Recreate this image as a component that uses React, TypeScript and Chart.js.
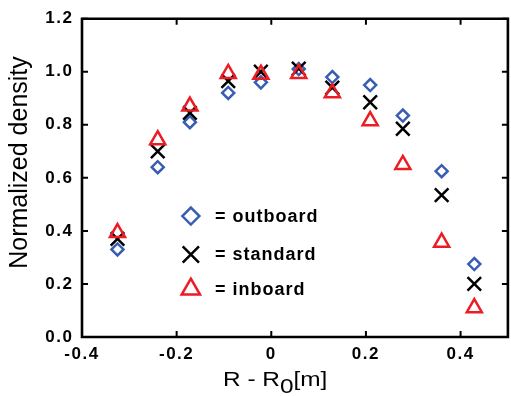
import React, { useEffect, useRef } from 'react';
import { Chart, registerables } from 'chart.js';
import { drawPoint } from 'chart.js/helpers';

Chart.register(...registerables);

// R - R0 [m] positions of the measurements
const positions = [-0.325, -0.24, -0.172, -0.091, -0.022, 0.058, 0.129, 0.209, 0.278, 0.36, 0.429];
// Normalized density for each configuration
const outboard = [0.33, 0.64, 0.81, 0.92, 0.96, 1.01, 0.98, 0.95, 0.835, 0.625, 0.275];
const standard = [0.37, 0.70, 0.845, 0.965, 1.0, 1.012, 0.94, 0.885, 0.785, 0.535, 0.2];
const inboard = [0.393, 0.743, 0.87, 0.993, 0.99, 0.993, 0.92, 0.815, 0.65, 0.357, 0.11];

const xTicks = [-0.4, -0.2, 0, 0.2, 0.4];
const xTickLabels = ['-0.4', '-0.2', '0', '0.2', '0.4'];
const yTicks = [0, 0.2, 0.4, 0.6, 0.8, 1.0, 1.2];
const yTickLabels = ['0.0', '0.2', '0.4', '0.6', '0.8', '1.0', '1.2'];

const legendLabels = ['= outboard', '= standard', '= inboard'];
const yTitle = 'Normalized density';
const xTitleMain = 'R - R';
const xTitleSub = '0';
const xTitleUnit = '[m]';

const BLUE = '#3a5db4';
const RED = '#ec1c24';
const BLACK = '#000000';
const FONT = '"Liberation Sans", Arial, Helvetica, sans-serif';

const framePlugin = {
  id: 'frameAndText',
  beforeDraw(chart: any) {
    (chart.ctx as any).letterSpacing = '1.5px';
  },
  afterDraw(chart: any) {
    const ctx = chart.ctx as CanvasRenderingContext2D;
    const { left, right, top, bottom } = chart.chartArea;
    const xs = chart.scales.x;
    const ys = chart.scales.y;
    ctx.save();
    (ctx as any).letterSpacing = '0px';
    // frame
    ctx.strokeStyle = BLACK;
    ctx.lineWidth = 2.6;
    ctx.beginPath();
    ctx.rect(left, top, right - left, bottom - top);
    ctx.stroke();
    // inward ticks
    ctx.lineWidth = 2;
    const tl = 6;
    ctx.beginPath();
    xTicks.forEach((v) => {
      const px = xs.getPixelForValue(v);
      ctx.moveTo(px, bottom);
      ctx.lineTo(px, bottom - tl);
      ctx.moveTo(px, top);
      ctx.lineTo(px, top + tl);
    });
    yTicks.forEach((v) => {
      const py = ys.getPixelForValue(v);
      ctx.moveTo(left, py);
      ctx.lineTo(left + tl, py);
      ctx.moveTo(right, py);
      ctx.lineTo(right - tl, py);
    });
    ctx.stroke();

    // legend
    const legendStyles = [
      { style: 'rectRot', radius: 8.5, color: BLUE, y: 0.456 },
      { style: 'crossRot', radius: 11.5, color: BLACK, y: 311 / 1000 },
      { style: 'triangle', radius: 10.6, color: RED, y: 0.18 },
    ];
    const mx = xs.getPixelForValue(-0.17);
    legendStyles.forEach((ls, i) => {
      const py = ys.getPixelForValue(ls.y);
      ctx.strokeStyle = ls.color;
      ctx.fillStyle = 'rgba(0,0,0,0)';
      ctx.lineWidth = 2.5;
      drawPoint(ctx, { pointStyle: ls.style as any, radius: ls.radius, rotation: 0, borderWidth: 2.5 }, mx, py);
      ctx.fillStyle = BLACK;
      ctx.font = 'bold 18px ' + FONT;
      (ctx as any).letterSpacing = '1px';
      ctx.textAlign = 'left';
      ctx.textBaseline = 'middle';
      ctx.fillText(legendLabels[i], 215, py + 1);
    });

    // y title
    (ctx as any).letterSpacing = '0px';
    ctx.fillStyle = BLACK;
    ctx.save();
    ctx.translate(26.5, 162.5);
    ctx.rotate(-Math.PI / 2);
    ctx.font = '25px ' + FONT;
    ctx.textAlign = 'center';
    ctx.textBaseline = 'alphabetic';
    ctx.fillText(yTitle, 0, 0);
    ctx.restore();

    // x title with subscript
    ctx.save();
    ctx.translate(223, 386);
    ctx.scale(1.22, 1);
    ctx.textAlign = 'left';
    ctx.textBaseline = 'alphabetic';
    ctx.font = '20px ' + FONT;
    ctx.fillText(xTitleMain, 0, 0);
    let w = ctx.measureText(xTitleMain).width;
    ctx.font = '20px ' + FONT;
    ctx.fillText(xTitleSub, w, 7);
    w += ctx.measureText(xTitleSub).width;
    ctx.font = '20px ' + FONT;
    ctx.fillText(xTitleUnit, w, 0);
    ctx.restore();

    ctx.restore();
  },
};

export default function App() {
  const ref = useRef<HTMLCanvasElement | null>(null);
  useEffect(() => {
    if (!ref.current) return;
    const mk = (ys: number[]) => positions.map((x, i) => ({ x, y: ys[i] }));
    const tickFont = { family: FONT, size: 17, weight: 'bold' as const };
    const chart = new Chart(ref.current, {
      type: 'scatter',
      data: {
        datasets: [
          {
            label: 'inboard',
            data: mk(inboard),
            pointStyle: 'triangle',
            pointRadius: 8.7,
            pointBorderWidth: 2.5,
            pointBorderColor: RED,
            pointBackgroundColor: 'rgba(0,0,0,0)',
            showLine: false,
          },
          {
            label: 'standard',
            data: mk(standard),
            pointStyle: 'crossRot',
            pointRadius: 9.6,
            pointBorderWidth: 2.5,
            pointBorderColor: BLACK,
            pointBackgroundColor: 'rgba(0,0,0,0)',
            showLine: false,
          },
          {
            label: 'outboard',
            data: mk(outboard),
            pointStyle: 'rectRot',
            pointRadius: 6,
            pointBorderWidth: 2.5,
            pointBorderColor: BLUE,
            pointBackgroundColor: 'rgba(0,0,0,0)',
            showLine: false,
          },
        ] as any,
      },
      options: {
        responsive: false,
        animation: false,
        events: [],
        layout: { padding: { top: 12, right: 7, left: 0, bottom: 0 } },
        plugins: { legend: { display: false }, tooltip: { enabled: false } },
        scales: {
          x: {
            type: 'linear',
            min: -0.4,
            max: 0.5,
            grid: { display: false, drawTicks: false },
            border: { display: false },
            afterBuildTicks: (s: any) => {
              s.ticks = xTicks.map((v) => ({ value: v }));
            },
            afterFit: (s: any) => {
              s.height = 59;
            },
            ticks: {
              autoSkip: false,
              maxRotation: 0,
              padding: 7,
              color: BLACK,
              font: tickFont,
              callback: (_v: any, i: number) => xTickLabels[i],
            },
          },
          y: {
            type: 'linear',
            min: 0,
            max: 1.2,
            grid: { display: false, drawTicks: false },
            border: { display: false },
            afterBuildTicks: (s: any) => {
              s.ticks = yTicks.map((v) => ({ value: v }));
            },
            afterFit: (s: any) => {
              s.width = 82;
            },
            ticks: {
              autoSkip: false,
              padding: 8.5,
              color: BLACK,
              font: tickFont,
              callback: (_v: any, i: number) => yTickLabels[i],
            },
          },
        },
      } as any,
      plugins: [framePlugin],
    });
    return () => chart.destroy();
  }, []);
  return (
    <div style={{ position: 'fixed', left: 0, top: 0, width: 511, height: 396, overflow: 'hidden', background: '#fff' }}>
      <canvas ref={ref} width={520} height={396} style={{ display: 'block', width: 520, height: 396 }} />
    </div>
  );
}
